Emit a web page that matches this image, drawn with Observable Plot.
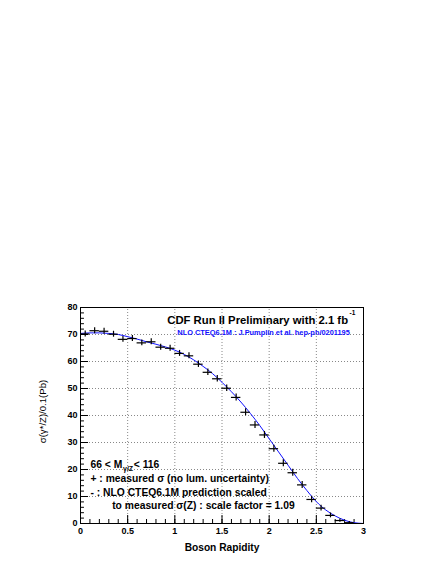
<!DOCTYPE html>
<html><head><meta charset="utf-8">
<script src="https://cdn.jsdelivr.net/npm/d3@7"></script>
<script src="https://cdn.jsdelivr.net/npm/@observablehq/plot@0.6"></script>
<style>body{margin:0;background:#fff} svg{display:block}</style>
</head><body><div id="chart"></div>
<script>
// Measured cross-section per rapidity bin (bin width 0.1)
const rapidity = [0.05,0.15,0.25,0.35,0.45,0.55,0.65,0.75,0.85,0.95,1.05,1.15,1.25,1.35,1.45,1.55,1.65,1.75,1.85,1.95,2.05,2.15,2.25,2.35,2.45,2.55,2.65,2.75,2.85];
const sigma = [70.2,71.4,71.2,70.1,68.2,68.5,66.9,67.3,65.3,64.9,63.0,62.1,59.0,56.0,53.6,50.1,46.7,41.2,36.5,32.8,27.7,22.3,18.8,14.3,8.9,5.7,3.0,1.1,0.3];
const sigmaErr = [1.1,1.1,1.1,1.1,1.1,1.1,1.1,1.1,1.1,1.1,1.1,1.1,1.2,1.2,1.2,1.2,1.3,1.3,1.3,1.3,1.3,1.3,1.3,1.3,1.2,1.1,0.9,0.6,0.4];
// NLO CTEQ6.1M prediction (scaled)
const theoryX = [0,0.1,0.2,0.3,0.4,0.5,0.6,0.7,0.8,0.9,1.0,1.1,1.2,1.3,1.4,1.5,1.6,1.7,1.8,1.9,2.0,2.1,2.2,2.3,2.4,2.5,2.6,2.7,2.8,2.9,3.0];
const theoryY = [70.4,70.6,70.6,70.4,70.0,69.2,68.3,67.3,66.4,65.4,64.2,62.6,60.6,58.2,55.5,52.3,48.8,45.0,40.8,36.3,31.4,26.5,21.6,16.7,12.2,8.1,5.0,2.8,1.2,0.3,0];
const xMajor = [0,0.5,1,1.5,2,2.5,3];
const yMajor = [0,10,20,30,40,50,60,70,80];
const xMinor = d3.range(0, 3.0001, 0.1);
const yMinor = d3.range(0, 80.001, 2);
const xGrid = [0.5,1,1.5,2,2.5];
const yGrid = [10,20,30,40,50,60,70];
const titleText = "CDF Run II Preliminary with 2.1 fb";
const titleSup = "-1";
const subtitleText = "NLO CTEQ6.1M : J.Pumplin et al. hep-ph/0201195";
const legendLines = ["+ : measured σ (no lum. uncertainty)", "- : NLO CTEQ6.1M prediction scaled", "to measured σ(Z) : scale factor = 1.09"];
const massParts = ["66 < M", "γ/Z", "< 116"];
const xLabel = "Boson Rapidity";
const yLabel = "σ(γ*/Z)/0.1(Pb)";

const points = rapidity.map((x, i) => ({x, y: sigma[i], e: sigmaErr[i]}));
const theory = theoryX.map((x, i) => ({x, y: theoryY[i]}));

const font = "'Liberation Sans', Arial, Helvetica, sans-serif";
const grid = {stroke: "#888", strokeWidth: 1, strokeDasharray: "1,2"};

const chart = Plot.plot({
  width: 436, height: 564,
  marginLeft: 80, marginRight: 73, marginTop: 307, marginBottom: 41,
  style: {fontFamily: font, fontSize: "9px", background: "#fff", color: "#000"},
  x: {domain: [0, 3]},
  y: {domain: [0, 80]},
  marks: [
    Plot.ruleX(xGrid, {x: d => d, y1: 0, y2: 80, ...grid}),
    Plot.ruleY(yGrid, {y: d => d, x1: 0, x2: 3, ...grid}),
    // axis tick labels
    Plot.axisX({ticks: xMajor, tickSize: 0, tickPadding: 4, tickFormat: d => String(d), fontWeight: "bold", fontSize: 9, label: null}),
    Plot.axisY({ticks: yMajor, tickSize: 0, tickPadding: 3, tickFormat: d => String(d), fontWeight: "bold", fontSize: 9, label: null}),
    // inward ticks
    Plot.ruleX(xMajor, {x: d => d, y1: 0, y2: 2.96, stroke: "#000"}),
    Plot.ruleX(xMinor, {x: d => d, y1: 0, y2: 1.48, stroke: "#000"}),
    Plot.ruleY(yMajor, {y: d => d, x1: 0, x2: 0.085, stroke: "#000"}),
    Plot.ruleY(yMinor, {y: d => d, x1: 0, x2: 0.042, stroke: "#000"}),
    // theory curve
    Plot.line(theory, {x: "x", y: "y", stroke: "#1010ff", strokeWidth: 1, curve: "natural"}),
    // data crosses
    Plot.ruleY(points, {y: "y", x1: d => d.x - 0.05, x2: d => d.x + 0.05, stroke: "#000", strokeWidth: 1.2}),
    Plot.ruleX(points, {x: "x", y1: d => d.y - d.e, y2: d => d.y + d.e, stroke: "#000", strokeWidth: 1.2}),
    Plot.frame({stroke: "#000"}),
    // title
    Plot.text([titleText], {x: 2.836, y: 73.96, text: d => d, textAnchor: "end", lineAnchor: "bottom", fontSize: 11.3, fontWeight: "bold", fill: "#000"}),
    Plot.text([titleSup], {x: 2.852, y: 77.4, text: d => d, textAnchor: "start", lineAnchor: "bottom", fontSize: 6.5, fontWeight: "bold", fill: "#000"}),
    Plot.text([subtitleText], {x: 2.855, y: 69.9, text: d => d, textAnchor: "end", lineAnchor: "bottom", fontSize: 7.4, fontWeight: "bold", fill: "#1010ff"}),
    // legend text
    Plot.text([massParts[0]], {x: 0.106, y: 20.5, text: d => d, textAnchor: "start", lineAnchor: "bottom", fontSize: 10.3, fontWeight: "bold"}),
    Plot.text([massParts[1]], {x: 0.4505, y: 19.4, text: d => d, textAnchor: "start", lineAnchor: "bottom", fontSize: 7, fontWeight: "bold"}),
    Plot.text([massParts[2]], {x: 0.565, y: 20.5, text: d => d, textAnchor: "start", lineAnchor: "bottom", fontSize: 10.3, fontWeight: "bold"}),
    Plot.text([legendLines[0]], {x: 0.106, y: 15.3, text: d => d, textAnchor: "start", lineAnchor: "bottom", fontSize: 10.3, fontWeight: "bold"}),
    Plot.text([legendLines[1]], {x: 0.106, y: 10.1, text: d => d, textAnchor: "start", lineAnchor: "bottom", fontSize: 10.3, fontWeight: "bold"}),
    Plot.text([legendLines[2]], {x: 0.336, y: 5.2, text: d => d, textAnchor: "start", lineAnchor: "bottom", fontSize: 10.3, fontWeight: "bold"}),
    // axis titles
    Plot.text([xLabel], {frameAnchor: "bottom", dy: 27.7, text: d => d, textAnchor: "middle", lineAnchor: "bottom", fontSize: 10.2, fontWeight: "bold"}),
    Plot.text([yLabel], {frameAnchor: "left", dx: -35, dy: -4, rotate: -90, text: d => d, textAnchor: "middle", lineAnchor: "bottom", fontSize: 9.6})
  ]
});
document.getElementById("chart").appendChild(chart);
</script>
</body></html>
